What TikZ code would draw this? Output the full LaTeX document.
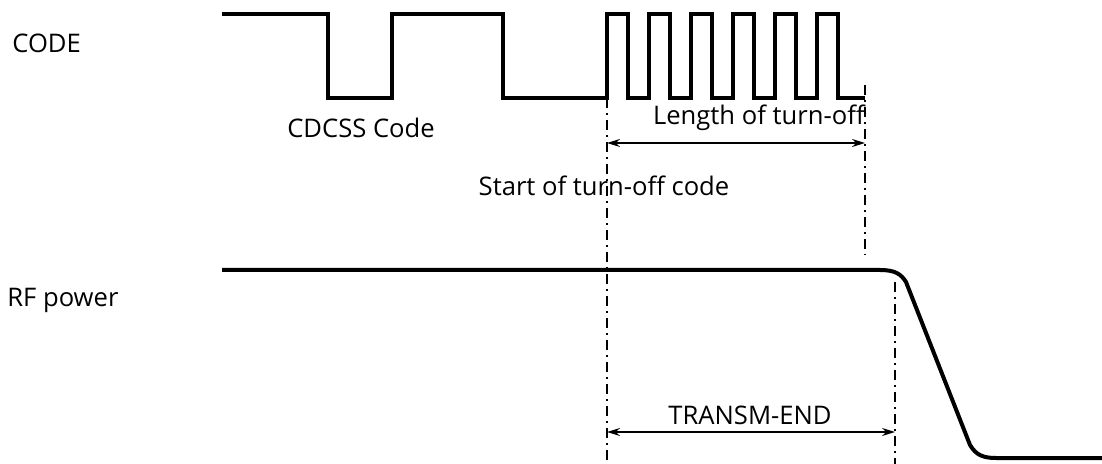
\documentclass[tikz,border=0pt]{standalone}
\usepackage{fontspec}
\setmainfont{Open Sans}
\usetikzlibrary{arrows.meta, positioning}

\begin{document}
\begin{tikzpicture}[
    x=0.5pt, y=-0.5pt, % one unit is one pixel of the original
    >={Stealth[length=6.5pt, width=4pt]}, % Arrow tips of the spans
    signal/.style={line width=2pt, line join=miter}, % Style for the waveforms
    marker/.style={line width=0.7pt, dash pattern=on 5pt off 2.5pt on 1pt off 2.5pt}, % Dash-dot time markers
    span/.style={<->, line width=0.8pt}, % Style for the time spans
    label/.style={font=\fontsize{12.8}{15}\selectfont, inner sep=0pt} % Style for all texts
]
    \useasboundingbox (0,0) rectangle (1102,464);

    % Key points
    \coordinate (start) at (607,98);
    \coordinate (startbot) at (607,464);
    \coordinate (codeend) at (865,85);
    \coordinate (codeendbot) at (865,255);
    \coordinate (rfend) at (895,282);
    \coordinate (rfendbot) at (895,464);
    \coordinate (lenL) at (607,143);
    \coordinate (lenR) at (865,143);
    \coordinate (txL) at (607,432);
    \coordinate (txR) at (895,432);

    % Signal names
    \node[label, anchor=west] (code) at (12,43) {CODE};
    \node[label, anchor=west] (rf) at (7,300) {RF power};

    % CODE waveform: CDCSS code, then the turn-off pulses
    \draw[signal] (222,14) -| (328,98) -| (392,14) -| (503,98) -| (607,14)
        foreach \i in {0,...,4} { -| ({628+42*\i},98) -| ({649+42*\i},14) }
        -| (838,98) -- (865,98);

    % RF power waveform
    \draw[signal] (222,270) -- (880,270)
        .. controls (895,270) and (901,274) .. (906,282) -- (970,445)
        .. controls (976,455) and (983,458) .. (996,458) -- (1102,458);

    % Time markers
    \draw[marker] (start) -- (startbot);
    \draw[marker] (codeend) -- (codeendbot);
    \draw[marker] (rfend) -- (rfendbot);

    % Spans
    \draw[span] (lenL) -- (lenR);
    \draw[span] (txL) -- (txR);

    % Texts
    \node[label] (cdcss) at (361,128) {CDCSS Code};
    \node[label, above left=6pt and 0pt of lenR] (length) {Length of turn-off};
    \node[label] (startcode) at (604,186) {Start of turn-off code};
    \node[label] (transm) at (750,415) {TRANSM-END};

\end{tikzpicture}
\end{document}
